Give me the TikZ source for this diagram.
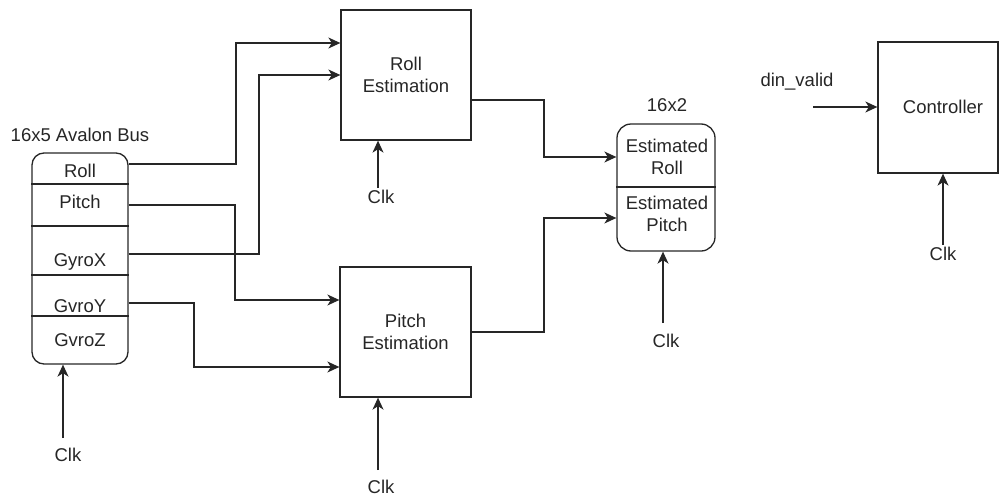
\documentclass[tikz,border=0pt]{standalone}
\usepackage{fontspec}
\setmainfont{Liberation Sans}
\usetikzlibrary{arrows.meta}
\begin{document}
\begin{tikzpicture}[x=1pt,y=-1pt,
  box/.style={draw=black!85, line width=1.3pt, inner sep=0pt},
  txt/.style={font=\fontsize{18.5}{22.5}\selectfont, text=black!85, inner sep=0pt, align=center},
  wire/.style={draw=black!85, line width=1.3pt},
  arr/.style={wire, -{Stealth[length=12pt,width=11pt,inset=3.5pt]}}
]
\useasboundingbox (0,0) rectangle (1000,495);

% blocks
\node[box, txt, minimum width=130pt, minimum height=130pt] (roll) at (406,75) {Roll\\Estimation};
\node[box, txt, minimum width=131pt, minimum height=130pt] (pitch) at (405.5,332) {Pitch\\Estimation};
\node[box, minimum width=120pt, minimum height=131pt] (ctrl) at (938,107.5) {};
\node[txt, anchor=base] (ctrltxt) at (943,113) {Controller};

% Avalon bus
\node[box, rounded corners=12pt, minimum width=96pt, minimum height=211pt] (bus) at (80,258.5) {};
\node[txt, anchor=base] (buslbl) at (80,141) {16x5 Avalon Bus};
\foreach \yy in {184,226,275,316} \draw[wire] (bus.west |- 0,\yy) -- (bus.east |- 0,\yy);
\node[txt, anchor=base] (fRoll) at (80,177) {Roll};
\node[txt, anchor=base] (fPitch) at (80,208) {Pitch};
\node[txt, anchor=base] (fGx) at (80,266) {GyroX};
\node[txt, anchor=base] (fGy) at (80,312) {GvroY};
\node[txt, anchor=base] (fGz) at (80,346) {GvroZ};

% Estimated register
\node[box, rounded corners=14pt, minimum width=98pt, minimum height=127pt] (estd) at (666,187.5) {};
\draw[wire] (estd.west |- 0,187) -- (estd.east |- 0,187);
\node[txt] (eRoll) at (667,157) {Estimated\\Roll};
\node[txt] (ePitch) at (667,214) {Estimated\\Pitch};
\node[txt, anchor=base] (estlbl) at (667,111) {16x2};

% wires from bus
\draw[arr] (bus.east |- 0,164) -| (236,43) -- (roll.west |- 0,43);
\draw[arr] (bus.east |- 0,254) -| (259,75) -- (roll.west |- 0,75);
\draw[arr] (bus.east |- 0,205) -| (235,300) -- (pitch.west |- 0,300);
\draw[arr] (bus.east |- 0,303) -| (194,367) -- (pitch.west |- 0,367);

% outputs
\draw[arr] (roll.east |- 0,100) -| (544,157) -- (estd.west |- 0,157);
\draw[arr] (pitch.east |- 0,332) -| (544,218) -- (estd.west |- 0,218);

% din_valid
\node[txt, anchor=base] (din) at (797,86) {din\_valid};
\coordinate (dinT) at (813,107);
\draw[arr] (dinT) -- (ctrl.west |- dinT);

% clocks
\node[txt, anchor=base] (clkBus) at (68,461) {Clk};
\node[txt, anchor=base] (clkRoll) at (381,203) {Clk};
\node[txt, anchor=base] (clkPitch) at (381,493) {Clk};
\node[txt, anchor=base] (clkEst) at (666,347) {Clk};
\node[txt, anchor=base] (clkCtrl) at (943,260) {Clk};
\coordinate (tBus) at (63,438);
\coordinate (tRoll) at (378,188);
\coordinate (tPitch) at (378,470);
\coordinate (tEst) at (663,323);
\coordinate (tCtrl) at (943,245);
\draw[arr] (tBus) -- (tBus |- bus.south);
\draw[arr] (tRoll) -- (tRoll |- roll.south);
\draw[arr] (tPitch) -- (tPitch |- pitch.south);
\draw[arr] (tEst) -- (tEst |- estd.south);
\draw[arr] (tCtrl) -- (tCtrl |- ctrl.south);
\end{tikzpicture}
\end{document}
